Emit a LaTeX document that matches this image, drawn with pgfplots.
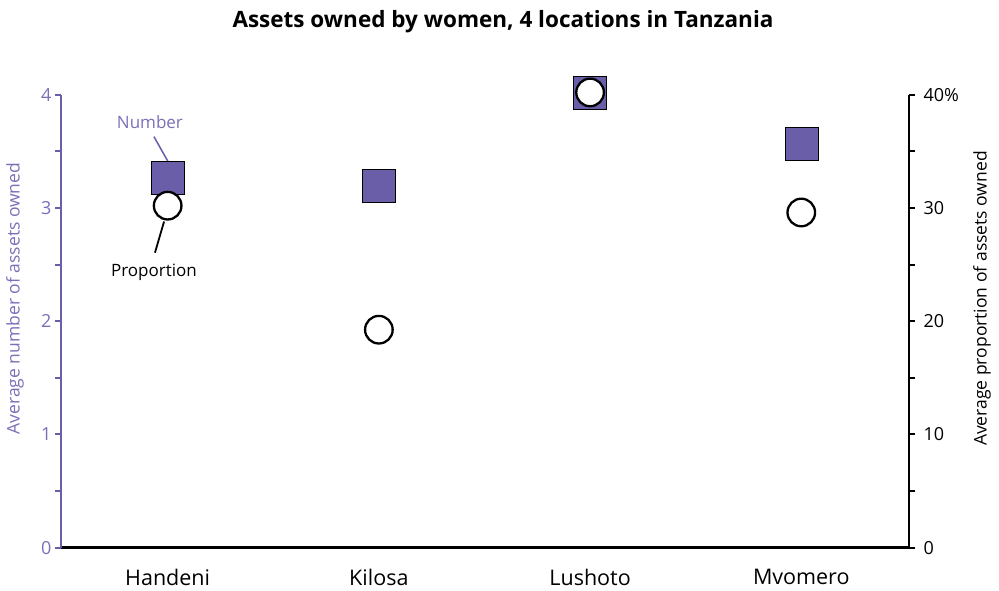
\documentclass[border=0pt]{standalone}
\usepackage{fontspec}
\setmainfont{Open Sans}
\usepackage{pgfplots}
\pgfplotsset{compat=1.18}
\definecolor{pur}{HTML}{6A5EA9}
\definecolor{purlab}{HTML}{7A70B8}
\begin{document}
\begin{tikzpicture}
\begin{axis}[
 at={(0pt,0pt)}, anchor=south west,
 width=848pt, height=453pt, scale only axis,
 xmin=-0.505, xmax=3.51, ymin=0, ymax=4,
 axis y line*=left, axis x line*=bottom,
 axis line style={line width=2.5pt, -},
 x axis line style={black, line width=2.5pt, -},
 y axis line style={draw=pur, line width=2.5pt, -},
 xtick={0,1,2,3}, xticklabels={Handeni,Kilosa,Lushoto,Mvomero},
 x tick style={draw=none},
 ytick={0,1,2,3,4}, minor ytick={0.5,1.5,2.5,3.5},
 tick align=outside, major tick length=6pt, minor tick length=6pt,
 y tick style={pur, line width=2pt},
 yticklabel style={purlab, font=\fontsize{18}{18}\selectfont},
 xticklabel style={font=\fontsize{21.5}{21.5}\selectfont, yshift=-12pt},
 ylabel={Average number of assets owned},
 ylabel style={purlab, font=\fontsize{17.5}{17.5}\selectfont, at={(axis description cs:0,0.55)}, anchor=center, yshift=46pt},
 clip=false,
 /pgf/number format/assume math mode=true,
]
\addplot[only marks, mark=square*, mark size=16.5pt, mark options={fill=pur, draw=none}] coordinates {
 (0,3.27) (1,3.20) (2,4.02) (3,3.565)
};
\draw[pur, line width=2.5pt] (axis description cs:0,0) -- (axis description cs:0,1);
\draw[pur, line width=1.5pt] (axis cs:-0.065,3.63) -- (axis cs:0.0016,3.41);
\node[purlab, font=\fontsize{17}{17}\selectfont] at (axis cs:-0.084,3.76) {Number};
\draw[black, line width=1.8pt] (axis cs:-0.06,2.605) -- (axis cs:-0.017,2.88);
\node[black, font=\fontsize{17}{17}\selectfont] at (axis cs:-0.065,2.43) {Proportion};
\end{axis}
\begin{axis}[
 at={(0pt,0pt)}, anchor=south west,
 width=848pt, height=453pt, scale only axis,
 xmin=-0.505, xmax=3.51, ymin=0, ymax=40,
 axis y line*=right, axis x line=none,
 y axis line style={black, line width=2.5pt, -},
 ytick={0,10,20,30,40}, yticklabels={0,10,20,30,40\%}, minor ytick={5,15,25,35},
 tick align=outside, major tick length=6pt, minor tick length=6pt,
 y tick style={black, line width=2pt},
 yticklabel style={black, font=\fontsize{18}{18}\selectfont, xshift=5pt},
 ylabel={Average proportion of assets owned},
 ylabel style={black, font=\fontsize{17.5}{17.5}\selectfont, at={(axis description cs:1,0.55)}, anchor=center, yshift=-73pt},
 clip=false,
 /pgf/number format/assume math mode=true,
]
\addplot[only marks, mark=*, mark size=13.8pt, mark options={fill=white, draw=black, line width=2.3pt}] coordinates {
 (0,30.2) (1,19.25) (2,40.2) (3,29.6)
};
\end{axis}
\node[font=\bfseries\fontsize{22.5}{22.5}\selectfont] at (442pt,526pt) {Assets owned by women, 4 locations in Tanzania};
\path (-61pt,-42.3pt) rectangle (938pt,547.7pt);
\end{tikzpicture}
\end{document}
